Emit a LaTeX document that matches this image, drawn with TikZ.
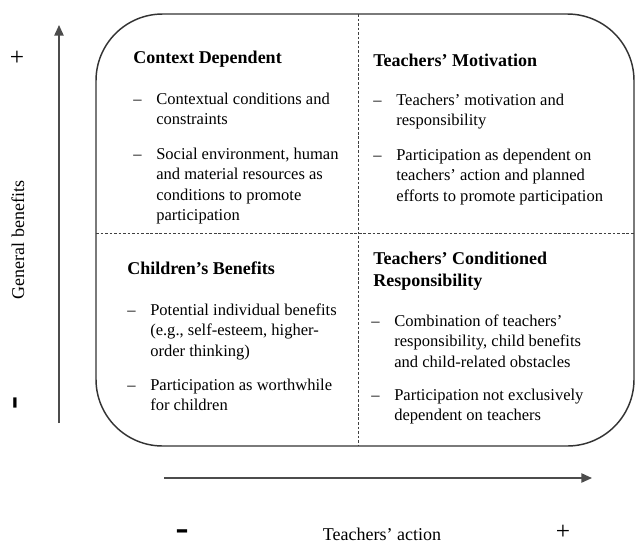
\documentclass[tikz,border=0pt]{standalone}
\usepackage{fontspec}
\setmainfont{Liberation Serif}
\newfontfamily\signfont{DejaVu Sans}
\usetikzlibrary{arrows.meta}
% bullet list with en-dash markers and a hanging indent
\newenvironment{dashlist}{\begin{tabular}[t]{@{}p{17.25pt}@{}l@{}}}{\end{tabular}}
\begin{document}
\begin{tikzpicture}[x=0.75pt,y=-0.75pt,
  frame/.style={draw=black!80, line width=1.1pt, rounded corners=50pt},
  divider/.style={draw=black!75, line width=0.75pt, dash pattern=on 2pt off 1.4pt},
  axis/.style={draw=black!70, line width=1.1pt, -{Triangle[length=8pt,width=7pt]}},
  title/.style={anchor=base west, inner sep=0pt, align=left,
    font=\fontsize{13.5}{16.5}\selectfont\bfseries},
  item/.style={anchor=base west, inner sep=0pt, font=\fontsize{12.4}{15.4}\selectfont},
  sign/.style={inner sep=0pt, font=\fontsize{19}{19}\selectfont},
  minus/.style={inner sep=0pt, font=\fontsize{19.5}{19.5}\selectfont\signfont\bfseries},
  axislabel/.style={inner sep=0pt, font=\fontsize{13.5}{15.5}\selectfont}]
  \useasboundingbox (0,0) rectangle (635,543);

  % quadrant frame and dividers
  \draw[frame] (96,14) rectangle (634,446);
  \coordinate (vtop) at (358,14);
  \coordinate (vbot) at (358,446);
  \coordinate (hleft) at (96,233);
  \coordinate (hright) at (634,233);
  \draw[divider] (vtop) -- (vbot);
  \draw[divider] (hleft) -- (hright);

  % axes
  \coordinate (ytail) at (59,423);
  \coordinate (ytip) at (59,25);
  \coordinate (xtail) at (164,478);
  \coordinate (xtip) at (592,478);
  \draw[axis] (ytail) -- (ytip);
  \draw[axis] (xtail) -- (xtip);

  \node[axislabel, rotate=90] (ylab) at (18,240) {General benefits};
  \node[axislabel] (xlab) at (382,534) {Teachers’ action};
  \node[sign] (yplus) at (17,58) {+};
  % minus signs: smashed so the node centre sits on the baseline
  \node[minus, rotate=90] (yminus) at (22,403) {\smash{–}};
  \node[minus] (xminus) at (182,538) {\smash{–}};
  \node[sign] (xplus) at (563,532) {+};

  % top-left quadrant
  \node[title] (cdT) at (133,63) {Context Dependent};
  \node[item] (cd1) at (133,104) {\begin{dashlist}
    –& Contextual conditions and\\ & constraints\end{dashlist}};
  \node[item] (cd2) at (133,159) {\begin{dashlist}
    –& Social environment, human\\ & and material resources as\\
     & conditions to promote\\ & participation\end{dashlist}};

  % top-right quadrant
  \node[title] (tmT) at (373,66) {Teachers’ Motivation};
  \node[item] (tm1) at (373,105) {\begin{dashlist}
    –& Teachers’ motivation and\\ & responsibility\end{dashlist}};
  \node[item] (tm2) at (373,160) {\begin{dashlist}
    –& Participation as dependent on\\ & teachers’ action and planned\\
     & efforts to promote participation\end{dashlist}};

  % bottom-left quadrant
  \node[title] (cbT) at (127,274) {Children’s Benefits};
  \node[item] (cb1) at (127,315) {\begin{dashlist}
    –& Potential individual benefits\\ & (e.g., self-esteem, higher-\\
     & order thinking)\end{dashlist}};
  \node[item] (cb2) at (127,390) {\begin{dashlist}
    –& Participation as worthwhile\\ & for children\end{dashlist}};

  % bottom-right quadrant (anchor is the baseline of the last title line)
  \node[title] (crT) at (373,286) {Teachers’ Conditioned\\Responsibility};
  \node[item] (cr1) at (371,326) {\begin{dashlist}
    –& Combination of teachers’\\ & responsibility, child benefits\\
     & and child-related obstacles\end{dashlist}};
  \node[item] (cr2) at (371,400) {\begin{dashlist}
    –& Participation not exclusively\\ & dependent on teachers\end{dashlist}};
\end{tikzpicture}
\end{document}
